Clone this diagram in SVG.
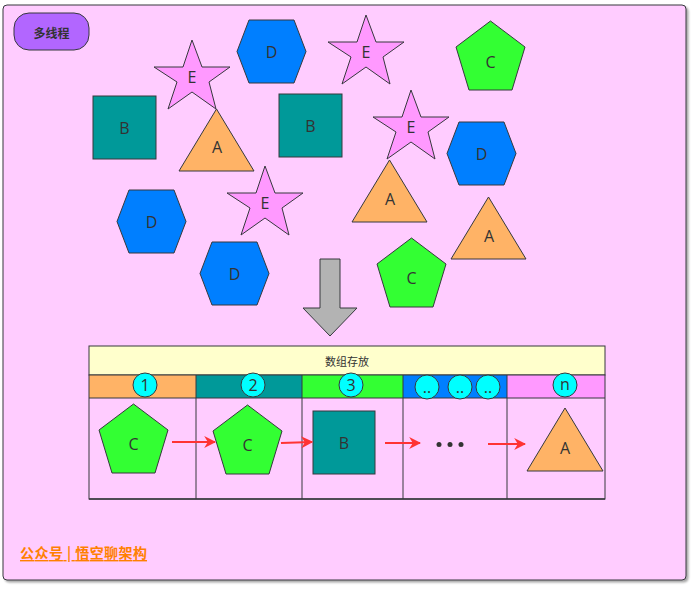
<svg xmlns="http://www.w3.org/2000/svg" xmlns:xlink="http://www.w3.org/1999/xlink" width="699" height="592" viewBox="0 0 699 592">
<defs>
<style>
.s{stroke:#36393d;stroke-width:1}
.lbl{font-family:"Open Sans","Liberation Sans",sans-serif;font-size:16px;fill:#333;text-anchor:middle;dominant-baseline:central}
.cj{font-family:"Noto Sans CJK SC",sans-serif;text-anchor:middle;dominant-baseline:central}
.star{fill:#ff99ff}
.hex{fill:#007fff}
.tri{fill:#ffb366}
.pent{fill:#33ff33}
.sq{fill:#009999}
.cir{fill:#00ffff}
.conn{stroke:#ff3333;stroke-width:2;fill:none}
</style>
<polygon id="starP" points="38,0 48,27 76,27 55,42 62,69 38,52 14,69 23,42 0,27 29,27"/>
<polygon id="hexP" points="0,31.5 12,0 57,0 69,31.5 57,63 12,63"/>
<polygon id="triP" points="37.5,0 75,62 0,62"/>
<polygon id="pentP" points="34.5,0 69,26 56,69 13,69 0,26"/>
<marker id="ah" viewBox="0 0 10 10" refX="9" refY="5" markerWidth="6" markerHeight="6" orient="auto" markerUnits="strokeWidth"><path d="M0,0 L10,5 L0,10 L3,5 z" fill="#ff3333"/></marker>
<filter id="sh" x="-5%" y="-5%" width="110%" height="110%"><feDropShadow dx="2" dy="2" stdDeviation="1" flood-color="#000" flood-opacity="0.35"/></filter>
</defs>
<g id="frame"><rect x="3" y="5" width="683" height="575" rx="4" fill="#ffccff" stroke="#36393d" filter="url(#sh)"/></g>
<g id="badge"><rect x="14" y="13" width="75" height="37" rx="15" fill="#b266ff" class="s"/><text x="51.5" y="32" class="cj" font-size="12" font-weight="bold" fill="#333">多线程</text></g>

<g id="E1"><use xlink:href="#starP" transform="translate(154,40)" class="s star"/><text x="192" y="77" class="lbl">E</text></g>
<g id="E2"><use xlink:href="#starP" transform="translate(328,15)" class="s star"/><text x="366" y="52" class="lbl">E</text></g>
<g id="E3"><use xlink:href="#starP" transform="translate(373,90)" class="s star"/><text x="411" y="127" class="lbl">E</text></g>
<g id="E4"><use xlink:href="#starP" transform="translate(227,166)" class="s star"/><text x="265" y="203" class="lbl">E</text></g>

<g id="D1"><use xlink:href="#hexP" transform="translate(237,20)" class="s hex"/><text x="271.5" y="51.5" class="lbl">D</text></g>
<g id="D2"><use xlink:href="#hexP" transform="translate(447,122)" class="s hex"/><text x="481.5" y="153.5" class="lbl">D</text></g>
<g id="D3"><use xlink:href="#hexP" transform="translate(117,190)" class="s hex"/><text x="151.5" y="221.5" class="lbl">D</text></g>
<g id="D4"><use xlink:href="#hexP" transform="translate(200,242)" class="s hex"/><text x="234.5" y="273.5" class="lbl">D</text></g>

<g id="B1"><rect x="93" y="96" width="63" height="63" class="s sq"/><text x="124.5" y="127.5" class="lbl">B</text></g>
<g id="B2"><rect x="279" y="94" width="63" height="63" class="s sq"/><text x="310.5" y="125.5" class="lbl">B</text></g>

<g id="A1"><use xlink:href="#triP" transform="translate(179,109)" class="s tri"/><text x="217" y="147" class="lbl">A</text></g>
<g id="A2"><use xlink:href="#triP" transform="translate(352,160)" class="s tri"/><text x="390" y="199" class="lbl">A</text></g>
<g id="A3"><use xlink:href="#triP" transform="translate(451,197)" class="s tri"/><text x="489" y="236" class="lbl">A</text></g>

<g id="C1"><use xlink:href="#pentP" transform="translate(456,21)" class="s pent"/><text x="490.5" y="62" class="lbl">C</text></g>
<g id="C2"><use xlink:href="#pentP" transform="translate(377,238)" class="s pent"/><text x="411.5" y="278" class="lbl">C</text></g>

<g id="downArrow"><polygon points="320,259 340,259 340,308 357,308 330,336 303,308 320,308" fill="#b3b3b3" class="s"/></g>

<g id="table">
<rect x="89" y="346" width="516" height="29" fill="#ffffcc" class="s"/>
<text x="347" y="361" class="cj" font-size="11" fill="#333">数组存放</text>
<rect x="89" y="375" width="107" height="23" fill="#ffb366"/>
<rect x="196" y="375" width="106" height="23" fill="#009999"/>
<rect x="302" y="375" width="101" height="23" fill="#33ff33"/>
<rect x="403" y="375" width="104" height="23" fill="#007fff"/>
<rect x="507" y="375" width="98" height="23" fill="#ff99ff"/>
<rect x="89" y="375" width="516" height="124" fill="none" class="s"/>
<line x1="89" y1="398" x2="605" y2="398" class="s"/>
<line x1="196" y1="375" x2="196" y2="499" class="s"/>
<line x1="302" y1="375" x2="302" y2="499" class="s"/>
<line x1="403" y1="375" x2="403" y2="499" class="s"/>
<line x1="507" y1="375" x2="507" y2="499" class="s"/>
<line x1="89" y1="499" x2="605" y2="499" stroke="#36393d" stroke-width="1.5"/>
</g>

<g id="idx1"><circle cx="145" cy="385" r="12" class="s cir"/><text x="145" y="385" class="lbl">1</text></g>
<g id="idx2"><circle cx="253" cy="385" r="12" class="s cir"/><text x="253" y="385" class="lbl">2</text></g>
<g id="idx3"><circle cx="351" cy="385" r="12" class="s cir"/><text x="351" y="385" class="lbl">3</text></g>
<g id="idx4"><circle cx="427" cy="387" r="12" class="s cir"/><text x="427" y="387" class="lbl" font-size="12">..</text></g>
<g id="idx5"><circle cx="460" cy="387" r="12" class="s cir"/><text x="460" y="387" class="lbl" font-size="12">..</text></g>
<g id="idx6"><circle cx="488" cy="387" r="12" class="s cir"/><text x="488" y="387" class="lbl" font-size="12">..</text></g>
<g id="idxn"><circle cx="565" cy="385" r="12" class="s cir"/><text x="565" y="384" class="lbl">n</text></g>

<g id="cellC1"><use xlink:href="#pentP" transform="translate(99,404)" class="s pent"/><text x="133.5" y="444" class="lbl">C</text></g>
<g id="cellC2"><use xlink:href="#pentP" transform="translate(213,405)" class="s pent"/><text x="247.5" y="445" class="lbl">C</text></g>
<g id="cellB"><rect x="313" y="411" width="62" height="63" class="s sq"/><text x="344" y="442.5" class="lbl">B</text></g>
<g id="cellDots"><circle cx="439" cy="444.5" r="2.5" fill="#333"/><circle cx="450" cy="444.5" r="2.5" fill="#333"/><circle cx="461" cy="444.5" r="2.5" fill="#333"/></g>
<g id="cellA"><polygon points="565,408 603,471 527,471" class="s tri"/><text x="565" y="448" class="lbl">A</text></g>

<g id="connectors">
<line x1="172" y1="442" x2="215" y2="442" class="conn" marker-end="url(#ah)"/>
<line x1="281" y1="443" x2="312" y2="442" class="conn" marker-end="url(#ah)"/>
<line x1="385" y1="443" x2="420" y2="443" class="conn" marker-end="url(#ah)"/>
<line x1="488" y1="444" x2="525" y2="444" class="conn" marker-end="url(#ah)"/>
</g>

<g id="footer"><text x="20" y="552" font-family="Noto Sans CJK SC,sans-serif" font-size="14" font-weight="bold" fill="#ff8000" text-decoration="underline" dominant-baseline="central" textLength="127" lengthAdjust="spacing">公众号 | 悟空聊架构</text></g>
</svg>
